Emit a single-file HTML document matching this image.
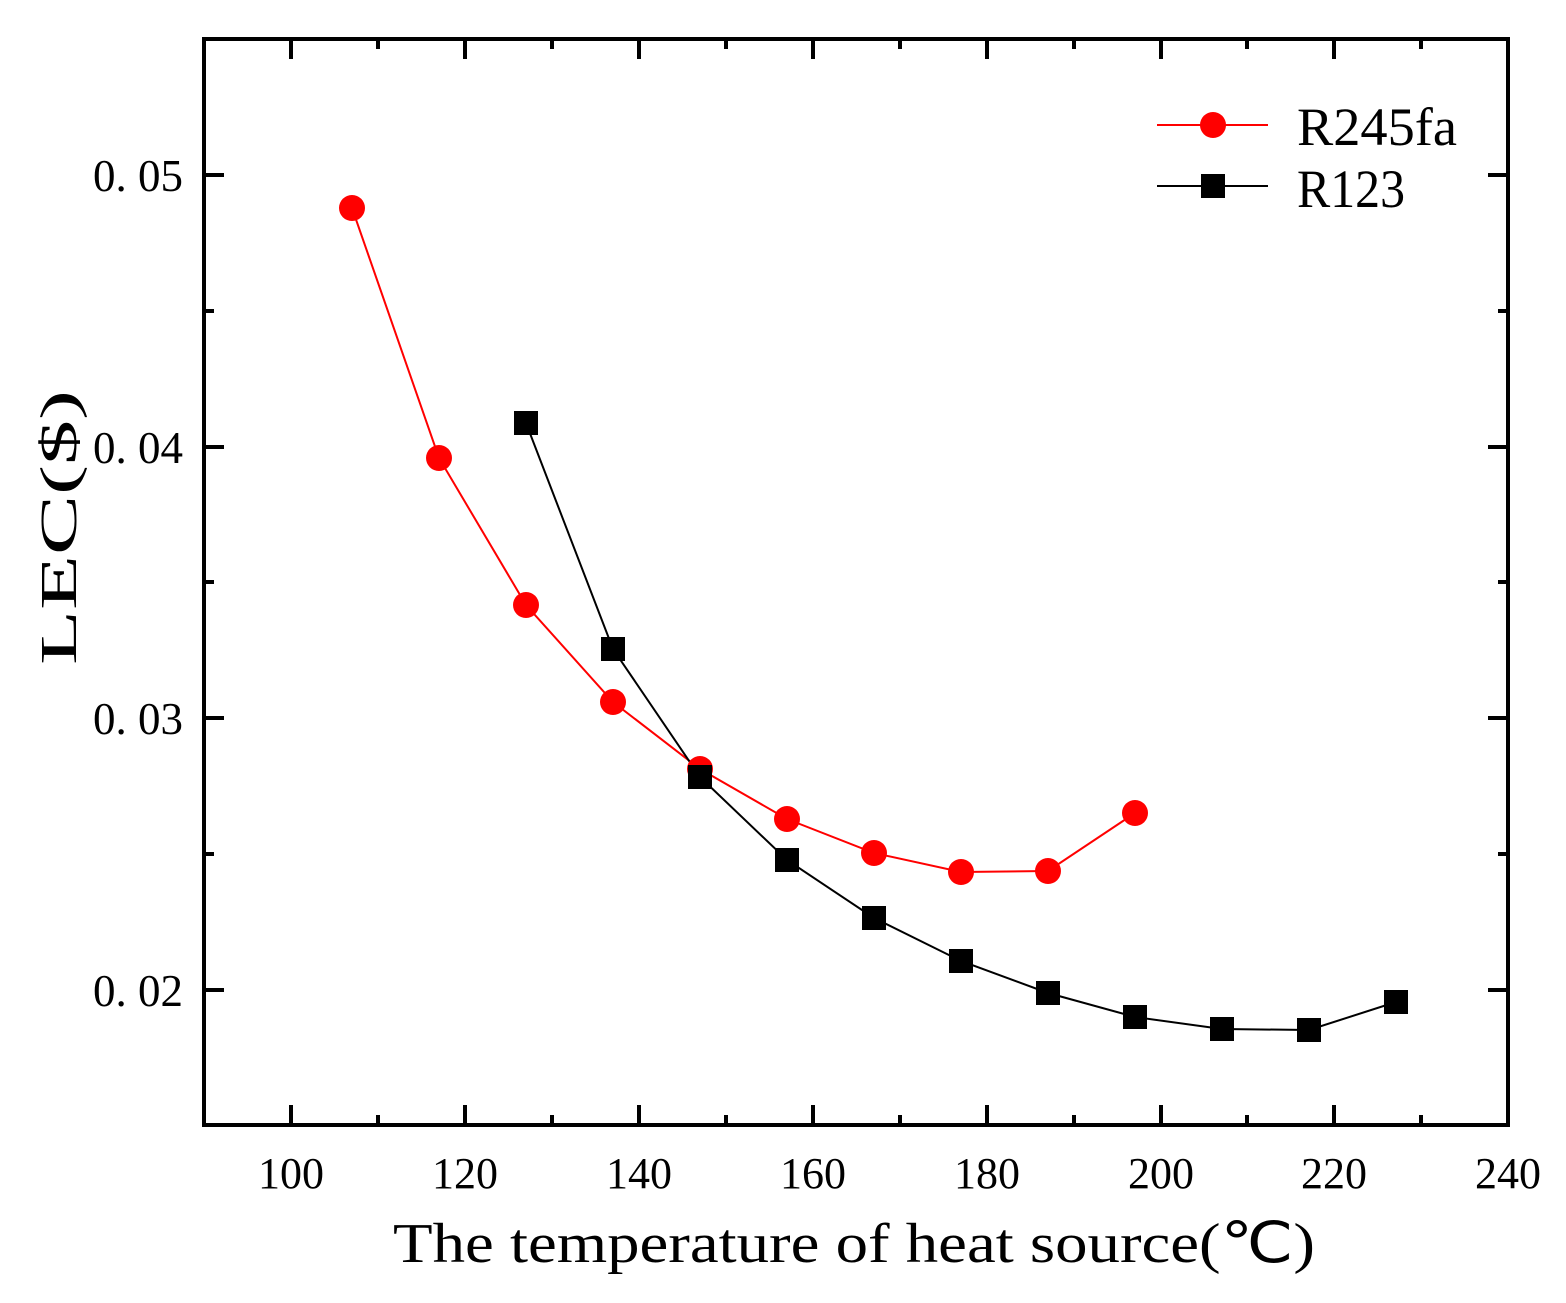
<!DOCTYPE html>
<html><head><style>html,body{margin:0;padding:0;background:#fff}</style></head>
<body>
<svg width="1566" height="1298" xmlns="http://www.w3.org/2000/svg" font-family="Liberation Serif, serif">
<rect width="1566" height="1298" fill="#fff"/>
<g stroke="#000" stroke-width="4">
<path d="M291 1125v-20M465 1125v-20M639 1125v-20M813 1125v-20M987 1125v-20M1161 1125v-20M1334 1125v-20M291 39v20M465 39v20M639 39v20M813 39v20M987 39v20M1161 39v20M1334 39v20"/>
<path d="M378 1125v-10M552 1125v-10M726 1125v-10M900 1125v-10M1074 1125v-10M1247 1125v-10M1421 1125v-10M378 39v10M552 39v10M726 39v10M900 39v10M1074 39v10M1247 39v10M1421 39v10"/>
<path d="M204 175h20M204 447h20M204 718h20M204 990h20M1508 175h-20M1508 447h-20M1508 718h-20M1508 990h-20"/>
<path d="M204 311h10M204 582h10M204 854h10M1508 311h-10M1508 582h-10M1508 854h-10"/>
</g>
<rect x="204" y="39" width="1304" height="1086" fill="none" stroke="#000" stroke-width="4"/>
<g font-size="46" fill="#000">
<text x="93" y="191" textLength="90" lengthAdjust="spacingAndGlyphs">0. 05</text>
<text x="93" y="463" textLength="90" lengthAdjust="spacingAndGlyphs">0. 04</text>
<text x="93" y="734" textLength="90" lengthAdjust="spacingAndGlyphs">0. 03</text>
<text x="93" y="1006" textLength="90" lengthAdjust="spacingAndGlyphs">0. 02</text>
</g>
<g font-size="44" fill="#000" text-anchor="middle">
<text x="291" y="1188">100</text><text x="465" y="1188">120</text><text x="639" y="1188">140</text><text x="813" y="1188">160</text><text x="987" y="1188">180</text><text x="1161" y="1188">200</text><text x="1334" y="1188">220</text><text x="1508" y="1188">240</text>
</g>
<text x="393" y="1262" font-size="56" textLength="922" lengthAdjust="spacingAndGlyphs">The temperature of heat source(℃)</text>
<text transform="translate(76,665) rotate(-90)" font-size="52" textLength="275" lengthAdjust="spacingAndGlyphs">LEC($)</text>
<polyline fill="none" stroke="#f00" stroke-width="2" points="352,208 439,458 526,605 613,702 700,769 787,819 874,853 961,872 1048,871 1135,813"/>
<polyline fill="none" stroke="#000" stroke-width="2" points="526,423 613,649 700,777 787,860 874,918 961,961 1048,993 1135,1017 1222,1029 1309,1030 1396,1002"/>
<g fill="#f00">
<circle cx="352" cy="208" r="13"/><circle cx="439" cy="458" r="13"/><circle cx="526" cy="605" r="13"/><circle cx="613" cy="702" r="13"/><circle cx="700" cy="769" r="13"/><circle cx="787" cy="819" r="13"/><circle cx="874" cy="853" r="13"/><circle cx="961" cy="872" r="13"/><circle cx="1048" cy="871" r="13"/><circle cx="1135" cy="813" r="13"/>
</g>
<g fill="#000">
<rect x="514" y="411" width="24" height="24"/><rect x="601" y="637" width="24" height="24"/><rect x="688" y="765" width="24" height="24"/><rect x="775" y="848" width="24" height="24"/><rect x="862" y="906" width="24" height="24"/><rect x="949" y="949" width="24" height="24"/><rect x="1036" y="981" width="24" height="24"/><rect x="1123" y="1005" width="24" height="24"/><rect x="1210" y="1017" width="24" height="24"/><rect x="1297" y="1018" width="24" height="24"/><rect x="1384" y="990" width="24" height="24"/>
</g>
<line x1="1157" y1="125" x2="1268" y2="125" stroke="#f00" stroke-width="2"/>
<circle cx="1213" cy="125" r="13" fill="#f00"/>
<line x1="1157" y1="186" x2="1268" y2="186" stroke="#000" stroke-width="2"/>
<rect x="1201" y="174" width="24" height="24" fill="#000"/>
<text x="1297" y="145" font-size="54" textLength="160" lengthAdjust="spacingAndGlyphs">R245fa</text>
<text x="1297" y="207" font-size="54" textLength="108" lengthAdjust="spacingAndGlyphs">R123</text>
</svg>
</body></html>
